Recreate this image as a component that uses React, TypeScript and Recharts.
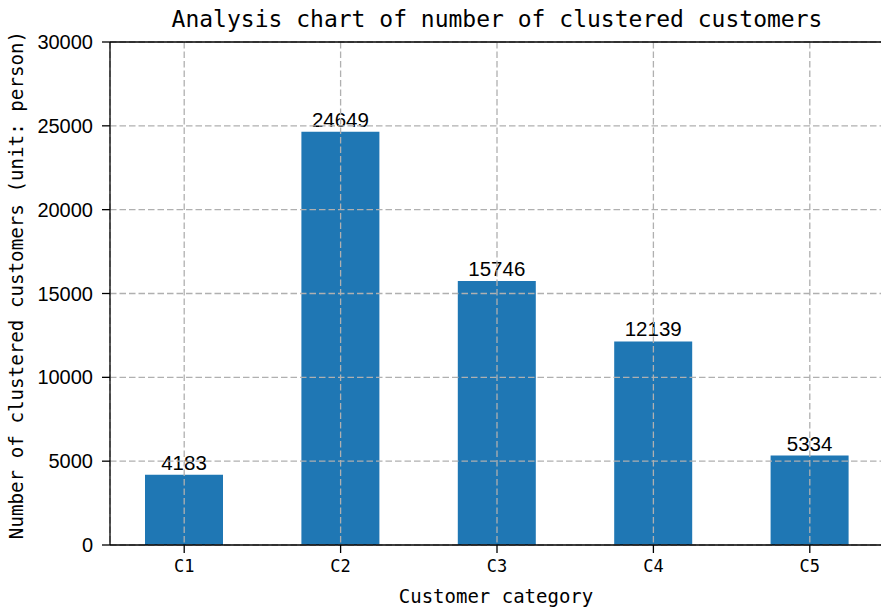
import { Bar, BarChart, CartesianGrid, LabelList, ReferenceLine, XAxis, YAxis } from 'recharts';

const categories = ['C1', 'C2', 'C3', 'C4', 'C5'];
const customerCounts = [4183, 24649, 15746, 12139, 5334];
const yTicks = [0, 5000, 10000, 15000, 20000, 25000, 30000];

const MONO = '"DejaVu Sans Mono", monospace';
const SANS = '"Liberation Sans", Arial, sans-serif';
const CHART_W = 900;
const CHART_H = 611;
const MARGIN = { top: 42, right: 16, bottom: 0, left: 0 };

type Datum = { name: string; value: number };

// Same axes in both layers so they line up. The bottom layer shows tick text,
// the top layer shows spines and tick marks (over the grid, like matplotlib).
function Axes({ top }: { top: boolean }) {
  const line = top ? { stroke: '#000', strokeWidth: 1.3 } : false;
  const textFill = top ? 'transparent' : '#000';
  return (
    <>
      <XAxis
        dataKey="name"
        height={66}
        padding={{ left: -4, right: -4 }}
        axisLine={line}
        tickLine={line}
        tickSize={8}
        tickMargin={7}
        tick={{ fill: textFill, fontFamily: MONO, fontSize: 17 }}
      />
      <YAxis
        width={110}
        domain={[0, 30000]}
        ticks={yTicks}
        interval={0}
        axisLine={line}
        tickLine={line}
        tickSize={8}
        tickMargin={9}
        tick={{ fill: textFill, fontFamily: SANS, fontSize: 20 }}
      />
    </>
  );
}

export default function App() {
  const data: Datum[] = categories.map((name, i) => ({ name, value: customerCounts[i] }));

  return (
    <div style={{ position: 'fixed', left: 0, top: 0, width: 881, height: 611, overflow: 'hidden', background: '#fff' }}>
      <BarChart width={CHART_W} height={CHART_H} data={data} margin={MARGIN}>
        {Axes({ top: false })}
        <Bar dataKey="value" fill="#1f77b4" barSize={78} isAnimationActive={false}>
          <LabelList
            dataKey="value"
            position="top"
            offset={5}
            fill="#000"
            style={{ fontFamily: SANS, fontSize: 20.5 }}
          />
        </Bar>
      </BarChart>

      {/* grid drawn above the bars, as in the source plot */}
      <div style={{ position: 'absolute', left: 0, top: 0, pointerEvents: 'none' }}>
        <BarChart width={CHART_W} height={CHART_H} data={data} margin={MARGIN}>
          <CartesianGrid stroke="#b0b0b0" strokeWidth={1.3} strokeDasharray="6.5 3" />
          {Axes({ top: true })}
          <Bar dataKey="value" fill="none" barSize={78} isAnimationActive={false} />
          <ReferenceLine y={30000} stroke="#000" strokeWidth={1.3} />
        </BarChart>
      </div>

      <svg
        width={881}
        height={611}
        style={{ position: 'absolute', left: 0, top: 0, pointerEvents: 'none' }}
      >
        <text x={497} y={27} textAnchor="middle" fontFamily={MONO} fontSize={23} fill="#000">
          Analysis chart of number of clustered customers
        </text>
        <text x={496} y={603} textAnchor="middle" fontFamily={MONO} fontSize={19} fill="#000">
          Customer category
        </text>
        <text
          x={23}
          y={285}
          textAnchor="middle"
          fontFamily={MONO}
          fontSize={19.2}
          fill="#000"
          transform="rotate(-90 23 285)"
        >
          Number of clustered customers (unit: person)
        </text>
      </svg>
    </div>
  );
}
